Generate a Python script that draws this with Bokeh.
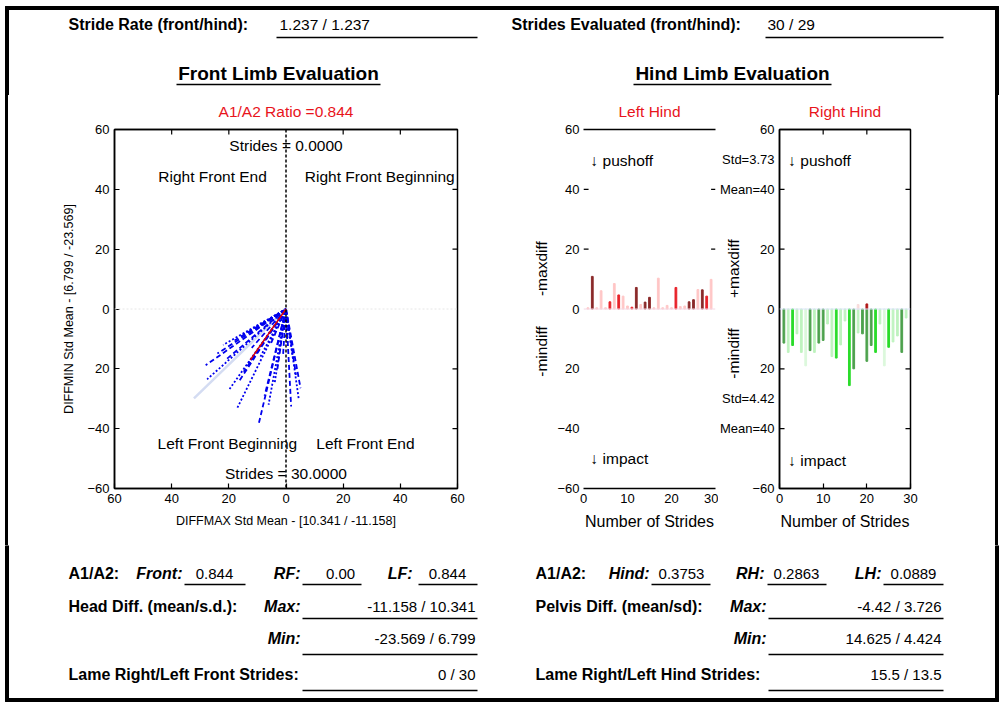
from bokeh.plotting import figure
from bokeh.models import Range1d, LinearAxis, FixedTicker, Label, Span, Spacer
from bokeh.layouts import row, column
from bokeh.core.properties import value
from bokeh.embed import file_html
from bokeh.resources import INLINE

FONT = "Liberation Sans"
NB = "\u00a0"

# ---------------- data ----------------
stride_rate = "1.237 / 1.237"
strides_evaluated = "30 / 29"
front_ratio_title = "A1/A2 Ratio =0.844"
front_xlabel = "DIFFMAX Std Mean - [10.341 / -11.158]"
front_ylabel = "DIFFMIN Std Mean - [6.799 / -23.569]"
front_ticks = [-60, -40, -20, 0, 20, 40, 60]
front_inner_ticks = [-40, -20, 20, 40]
front_x_tick_labels = {-60: "60", -40: "40", -20: "20"}
front_y_tick_labels = {-20: "20"}

# stride vectors (end points, drawn from the origin)
front_origin = (0.0, 0.0)
front_vec_x = [-28.1, -27.6, -24.0, -22.0, -20.6, -20.0, -18.0, -17.1, -16.5, -15.0,
               -14.8, -13.0, -12.0, -10.5, -9.5, -9.0, -7.5, -6.1, -5.5, -4.0,
               -3.0, -2.0, -1.0, 0.5, 1.8, 2.5, 3.5, 4.5, 5.1]
front_vec_y = [-18.8, -23.5, -14.9, -12.0, -16.6, -27.1, -10.5, -33.2, -24.3, -8.5,
               -21.0, -18.2, -13.0, -6.5, -38.2, -16.0, -29.0, -32.0, -12.0, -25.0,
               -20.0, -8.0, -15.0, -12.0, -32.6, -17.0, -22.0, -30.4, -26.5]
front_faint_x = [-32.2]
front_faint_y = [-29.9]
front_mean_x = [-12.5]
front_mean_y = [-17.0]

hind_x_ticks = [0, 10, 20, 30]
hind_y_ticks = [-60, -40, -20, 0, 20, 40, 60]
hind_inner_ticks = [-40, -20, 20, 40]
hind_top_ticks = [10, 20]

lh_strides = list(range(1, 30))
lh_values = [0.4, 10.9, 0.4, 6.1, 0.4, 2.4, 8.5, 4.7, 4.3, 1.0,
             0.6, 7.2, 1.5, 2.3, 3.9, 0.4, 10.3, 0.4, 1.2, 0.4,
             7.2, 0.8, 1.0, 2.4, 3.1, 6.5, 6.4, 4.3, 9.9]
lh_shade = ["pale", "dark", "pale", "pale", "pale", "red", "pale", "red", "pale", "pale",
            "red", "dark", "pale", "dark", "dark", "pale", "pale", "pale", "pale", "pale",
            "red", "pale", "pale", "dark", "dark", "pale", "dark", "red", "pale"]
lh_side_ticks = [40, 20]

rh_strides = list(range(1, 30))
rh_values = [-11.4, -14.5, -12.2, -8.3, -14.5, -19.0, -13.9, -14.5, -11.4, -10.5,
             -5.0, -15.9, -16.4, -12.0, -4.0, -25.6, -20.0, -8.0, -8.3, -17.5,
             -12.2, -14.5, -5.0, -19.0, -12.8, -11.0, -9.0, -14.5, -3.0]
rh_shade = ["mid", "pale", "bright", "pale", "pale", "vpale", "mid", "pale", "mid", "mid",
            "pale", "pale", "bright", "pale", "pale", "bright", "mid", "pale", "mid", "mid",
            "mid", "bright", "pale", "vpale", "bright", "pale", "pale", "mid", "pale"]
rh_up_strides = [18, 20]
rh_up_values = [1.5, 1.7]
rh_up_shade = ["pink", "red"]
# statistics printed beside the right-hind axis
rh_stat_ticks = [50, -30]
rh_axis_labels = {50: "Std=3.73", 40: "Mean=40", -20: "20", -30: "Std=4.42", -40: "Mean=40"}

table_left = {
    "front": "0.844", "rf": "0.00", "lf": "0.844",
    "max": "-11.158 / 10.341", "min": "-23.569 / 6.799", "lame": "0 / 30",
}
table_right = {
    "hind": "0.3753", "rh": "0.2863", "lh": "0.0889",
    "max": "-4.42 / 3.726", "min": "14.625 / 4.424", "lame": "15.5 / 13.5",
}

LH_COLORS = {"dark": "#8b2a2a", "red": "#e8222a", "pale": "#ffc6c6"}
RH_COLORS = {"bright": "#2bdc2b", "mid": "#4ea24e", "pale": "#bff3bf", "vpale": "#dcf8dc",
             "red": "#b01818", "pink": "#f8dcdc"}
RED_TITLE = "#e8141c"

W = 1003


# ---------------- helpers ----------------
def canvas(w, h):
    p = figure(width=w, height=h, x_range=Range1d(0, w), y_range=Range1d(h, 0),
               x_axis_type=None, y_axis_type=None, min_border=0,
               toolbar_location=None, output_backend="svg")
    p.outline_line_color = None
    p.title.visible = False
    return p


def txt(p, xs, ys, texts, size="15px", style="normal", align="left", color="black"):
    p.text(x=xs, y=ys, text=texts, text_font=value(FONT), text_font_size=size,
           text_font_style=style, text_align=align, text_baseline="middle",
           text_color=color)


def uline(p, x0, x1, y, w=1.5):
    p.segment(x0=x0, y0=[y] * len(x0), x1=x1, y1=[y] * len(x0),
              line_color="black", line_width=w)


def lab(p, x, y, text, size="15.5px", color="black", align="center"):
    p.add_layout(Label(x=x, y=y, text=text, text_font=FONT, text_font_size=size,
                       text_color=color, text_align=align, text_baseline="middle"))


def style_axis(ax, size="13px", tick_in=5):
    ax.major_label_text_font = FONT
    ax.major_label_text_font_size = size
    ax.major_label_text_color = "black"
    ax.axis_label_text_font = FONT
    ax.axis_label_text_font_style = "normal"
    ax.axis_label_text_color = "black"
    ax.minor_tick_line_color = None
    ax.major_tick_in = tick_in
    ax.major_tick_out = 0
    ax.major_tick_line_color = "black"
    ax.major_tick_line_width = 1.2
    ax.axis_line_color = "black"
    ax.axis_line_width = 1.5
    ax.major_label_standoff = 5


def title_axis(p, center, text, show_line=True):
    """red panel title carried by an 'above' axis with a single labelled position"""
    ax = LinearAxis(ticker=FixedTicker(ticks=[center]))
    style_axis(ax, size="15.5px", tick_in=0)
    ax.major_tick_line_color = None
    ax.major_label_overrides = {center: text}
    ax.major_label_text_color = RED_TITLE
    ax.major_label_standoff = 10
    if not show_line:
        ax.axis_line_color = None
    p.add_layout(ax, "above")
    return ax


def inner_ticks(p, ticks, axis_pos, length, vertical_edge, color="black"):
    if vertical_edge:   # ticks on a vertical edge (y positions)
        p.segment(x0=[axis_pos] * len(ticks), y0=ticks, x1=[axis_pos + length] * len(ticks),
                  y1=ticks, line_color=color, line_width=1.2)
    else:               # ticks on a horizontal edge (x positions)
        p.segment(x0=ticks, y0=[axis_pos] * len(ticks), x1=ticks,
                  y1=[axis_pos + length] * len(ticks), line_color=color, line_width=1.2)


# ---------------- header strip ----------------
top = canvas(W, 95)
top.quad(left=[5, 5, 995], right=[998, 8, 998], top=[6, 6, 6], bottom=[9, 95, 95],
         color="black")
txt(top, [68, 511], [24, 24], ["Stride Rate (front/hind):", "Strides Evaluated (front/hind):"],
    size="16px", style="bold")
txt(top, [279, 767], [24, 24], [stride_rate, strides_evaluated], size="15.5px")
uline(top, [276, 765], [477, 943], 37)
txt(top, [278, 732], [73, 73], ["Front Limb Evaluation", "Hind Limb Evaluation"],
    size="19px", style="bold", align="center")
uline(top, [176, 633], [380, 831], 84)

# ---------------- front limb plot ----------------
front = figure(width=492, height=450, x_range=Range1d(-60, 60), y_range=Range1d(-60, 60),
               output_backend="svg", toolbar_location=None,
               min_border_left=106, min_border_right=43, min_border_top=33, min_border_bottom=56)
front.title.visible = False
front.grid.visible = False
front.outline_line_color = "black"
front.outline_line_width = 1.5
title_axis(front, 0, front_ratio_title)
f_below = front.below[0]
f_left = front.left[0]
for ax in (f_below, f_left):
    style_axis(ax)
    ax.ticker = FixedTicker(ticks=front_ticks)
f_below.major_label_overrides = front_x_tick_labels
f_left.major_label_overrides = front_y_tick_labels
f_below.axis_label = front_xlabel
f_below.axis_label_text_font_size = "12.5px"
f_below.axis_label_standoff = 8
f_left.axis_label = front_ylabel
f_left.axis_label_text_font_size = "12.5px"
f_left.axis_label_standoff = 8
inner_ticks(front, front_inner_ticks, 60, -1.75, True)
inner_ticks(front, front_inner_ticks, 60, -1.66, False)

front.add_layout(Span(location=0, dimension="width", line_color="#e6e6e6",
                      line_dash="2 2", line_width=1))
ox, oy = front_origin
front.segment(x0=[ox] * len(front_faint_x), y0=[oy] * len(front_faint_x),
              x1=front_faint_x, y1=front_faint_y, line_color="#d4dcf2", line_width=2.5)
even_x, even_y = front_vec_x[0::2], front_vec_y[0::2]
odd_x, odd_y = front_vec_x[1::2], front_vec_y[1::2]
front.segment(x0=[ox] * len(even_x), y0=[oy] * len(even_x), x1=even_x, y1=even_y,
              line_color="#0000ee", line_width=1.8, line_dash="5 3")
front.segment(x0=[ox] * len(odd_x), y0=[oy] * len(odd_x), x1=odd_x, y1=odd_y,
              line_color="#0000ee", line_width=1.8, line_dash="2 2")
front.segment(x0=[ox], y0=[oy], x1=front_mean_x, y1=front_mean_y,
              line_color="#e00000", line_width=1.5)
front.add_layout(Span(location=0, dimension="height", line_color="black",
                      line_dash="3 2", line_width=1.5))

lab(front, 0, 54.5, "Strides = 0.0000")
lab(front, -25.7, 44.4, "Right Front End")
lab(front, 32.8, 44.4, "Right Front Beginning")
lab(front, -20.5, -45.0, "Left Front Beginning")
lab(front, 27.8, -45.0, "Left Front End")
lab(front, 0, -55.0, "Strides = 30.0000")

# ---------------- left hind ----------------
lh = figure(width=218, height=450, x_range=Range1d(0, 30), y_range=Range1d(-60, 60),
            output_backend="svg", toolbar_location=None,
            min_border_left=83, min_border_right=3, min_border_top=34, min_border_bottom=55)
lh.title.visible = False
lh.grid.visible = False
lh.outline_line_color = None
title_axis(lh, 15, "Left Hind")          # its axis line is the top rule of the panel
lh_below = lh.below[0]
lh_left = lh.left[0]
style_axis(lh_below, tick_in=0)
style_axis(lh_left, tick_in=0)
lh_below.ticker = FixedTicker(ticks=hind_x_ticks)
lh_left.ticker = FixedTicker(ticks=hind_y_ticks)
lh_left.axis_line_color = None
lh_left.major_label_overrides = {-20: "20"}
lh_left.major_label_standoff = 4
lh_left.axis_label = "-mindiff" + NB * 7 + "-maxdiff"
lh_left.axis_label_text_font_size = "15.5px"
lh_left.axis_label_standoff = 4
lh_below.axis_label = "Number of Strides"
lh_below.axis_label_text_font_size = "16px"
lh_below.axis_label_standoff = 7
lh.add_layout(Span(location=0, dimension="width", line_color="#f4d8e4", line_width=1))
lh.vbar(x=lh_strides, bottom=0, top=lh_values, width=0.4,
        color=[LH_COLORS[s] for s in lh_shade])
inner_ticks(lh, lh_side_ticks, 0, 1.15, True)
inner_ticks(lh, lh_side_ticks, 30, -1.0, True)
lab(lh, 1.6, 49.7, "↓ pushoff", align="left")
lab(lh, 1.6, -50.0, "↓ impact", align="left")

# ---------------- right hind ----------------
rh = figure(width=277, height=450, x_range=Range1d(0, 30), y_range=Range1d(-60, 60),
            output_backend="svg", toolbar_location=None,
            min_border_left=61, min_border_right=85, min_border_top=34, min_border_bottom=57)
rh.title.visible = False
rh.grid.visible = False
rh.outline_line_color = "black"
rh.outline_line_width = 1.5
title_axis(rh, 15, "Right Hind")
r_below = rh.below[0]
r_left = rh.left[0]
style_axis(r_below)
style_axis(r_left, tick_in=0)
r_below.ticker = FixedTicker(ticks=hind_x_ticks)
r_left.ticker = FixedTicker(ticks=sorted(hind_y_ticks + rh_stat_ticks))
r_left.major_label_overrides = rh_axis_labels
r_left.axis_label = "-mindiff" + NB * 7 + "+maxdiff"
r_left.axis_label_text_font_size = "15.5px"
r_left.axis_label_standoff = -25
r_below.axis_label = "Number of Strides"
r_below.axis_label_text_font_size = "16px"
r_below.axis_label_standoff = 7
inner_ticks(rh, hind_inner_ticks, 0, 1.15, True)
inner_ticks(rh, hind_inner_ticks, 30, -1.15, True)
inner_ticks(rh, hind_top_ticks, 60, -1.66, False)
rh.add_layout(Span(location=0, dimension="width", line_color="#dde4fb", line_width=1))
rh.vbar(x=rh_strides, bottom=rh_values, top=0, width=0.4,
        color=[RH_COLORS[s] for s in rh_shade])
rh.vbar(x=rh_up_strides, bottom=0, top=rh_up_values, width=0.4,
        color=[RH_COLORS[s] for s in rh_up_shade])
lab(rh, 2.0, 49.7, "↓ pushoff", align="left")
lab(rh, 2.0, -50.7, "↓ impact", align="left")

# ---------------- table strip ----------------
bot = canvas(W, 161)
bot.quad(left=[5, 995], right=[8, 998], top=[0, 0], bottom=[156, 156], color="black")
bot.quad(left=[5], right=[998], top=[153], bottom=[156], color="black")
r1, r2, r3, r4 = 28, 61, 93, 129
u1, u2, u3, u4 = 39, 73, 109, 145
# left table
txt(bot, [68, 68, 68], [r1, r2, r4],
    ["A1/A2:", "Head Diff. (mean/s.d.):", "Lame Right/Left Front Strides:"],
    size="16px", style="bold")
txt(bot, [182, 300, 412, 300, 300], [r1, r1, r1, r2, r3],
    ["Front:", "RF:", "LF:", "Max:", "Min:"], size="16px", style="bold italic", align="right")
txt(bot, [214, 340, 447], [r1, r1, r1],
    [table_left["front"], table_left["rf"], table_left["lf"]], align="center")
txt(bot, [475, 475, 475], [r2, r3, r4],
    [table_left["max"], table_left["min"], table_left["lame"]], align="right")
uline(bot, [184, 302, 418], [245, 361, 477], u1)
uline(bot, [302], [477], u2)
uline(bot, [302], [477], u3)
uline(bot, [302], [477], u4)
# right table
txt(bot, [535, 535, 535], [r1, r2, r4],
    ["A1/A2:", "Pelvis Diff. (mean/sd):", "Lame Right/Left Hind Strides:"],
    size="16px", style="bold")
txt(bot, [649, 764, 881, 766, 766], [r1, r1, r1, r2, r3],
    ["Hind:", "RH:", "LH:", "Max:", "Min:"], size="16px", style="bold italic", align="right")
txt(bot, [681, 796, 913], [r1, r1, r1],
    [table_right["hind"], table_right["rh"], table_right["lh"]], align="center")
txt(bot, [941, 941, 941], [r2, r3, r4],
    [table_right["max"], table_right["min"], table_right["lame"]], align="right")
uline(bot, [651, 767, 883], [710, 826, 943], u1)
uline(bot, [768], [943], u2)
uline(bot, [768], [943], u3)
uline(bot, [768], [943], u4)

# ---------------- assemble ----------------
H_MID = 450
middle = row(
    Spacer(width=5, height=H_MID),
    Spacer(width=3, height=H_MID, styles={"background-color": "black"}),
    front, lh, rh,
    Spacer(width=3, height=H_MID, styles={"background-color": "black"}),
    Spacer(width=5, height=H_MID),
)
page = column(top, middle, bot)

open("out.html", "w").write(file_html(page, INLINE, title="Limb Evaluation"))
